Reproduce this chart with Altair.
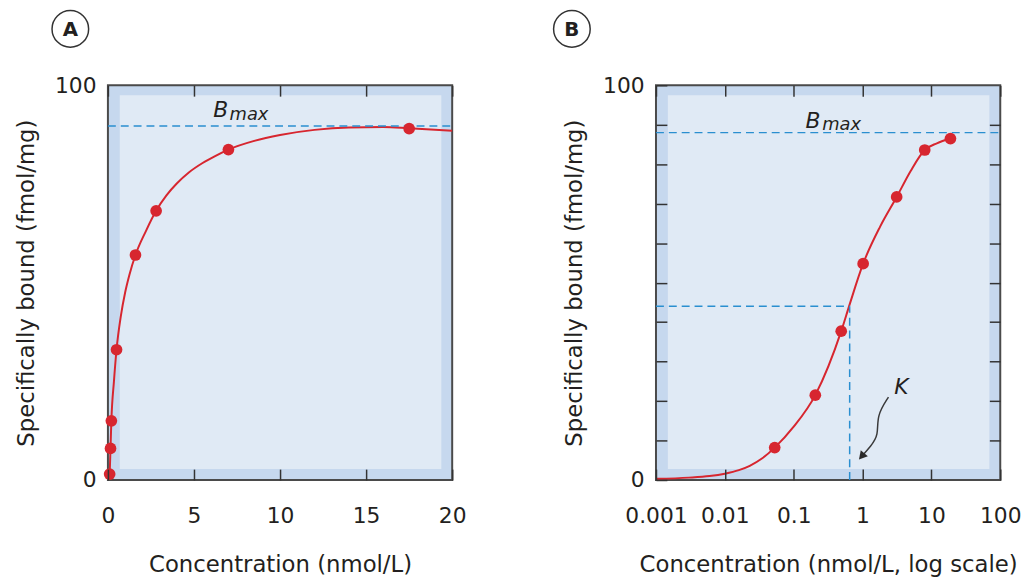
import altair as alt
import pandas as pd

# ---------------- data ----------------
# Panel A (linear concentration)
a_conc = [0.1, 0.15, 0.2, 0.5, 1.6, 2.8, 7.0, 17.5]
a_bound = [1.5, 8.0, 15.0, 33.0, 57.0, 68.2, 83.7, 89.0]
a_curve_x = [0.08, 0.1, 0.15, 0.2, 0.35, 0.5, 0.75, 1.0, 1.25, 1.6, 2.2, 2.8, 3.4, 4.0, 4.7,
             5.5, 6.2, 7.0, 8.5, 10, 12, 14, 16, 17.5, 20]
a_curve_y = [0, 1.5, 8, 15, 25, 33, 41.5, 47.5, 52, 57, 63.0, 68.2, 72.1, 75.1, 77.9,
             80.3, 82.0, 83.7, 85.9, 87.4, 88.7, 89.3, 89.4, 89.1, 88.5]
a_bmax = 89.7
a_xticks = [0, 5, 10, 15, 20]
a_yticks = [0, 100]

# Panel B (log concentration)
b_conc = [0.053, 0.206, 0.49, 1.02, 3.13, 8.0, 18.9]
b_bound = [8.2, 21.5, 37.7, 54.8, 71.7, 83.6, 86.5]
b_curve_x = [0.001, 0.003, 0.006, 0.01, 0.016, 0.023, 0.035, 0.053, 0.1, 0.206, 0.49, 0.65, 1.02,
             1.8, 3.13, 5, 8, 12, 18.9]
b_curve_y = [0.3, 0.6, 1.0, 1.6, 2.5, 3.6, 5.5, 8.2, 13.5, 21.5, 37.7, 44.5, 54.8,
             64.2, 71.7, 78.3, 83.6, 85.3, 86.5]
b_bmax = 88.0
b_half = 44.0
b_k = 0.65
b_xticks = [0.001, 0.01, 0.1, 1, 10, 100]
b_yticks = [0, 10, 20, 30, 40, 50, 60, 70, 80, 90, 100]
b_yticks_right = [10, 20, 30, 40, 50, 60, 70, 80, 90]

# annotation: wavy arrow to K (data coords)
arrow_x = [2.38, 1.6, 1.71, 1.31, 0.97]
arrow_y = [21.0, 16.3, 11.3, 8.5, 6.0]

# ---------------- style ----------------
W, H = 348, 399
FONT = "DejaVu Sans"
TXT = "#231f20"
RED = "#d7262f"
BLUE = "#2a8fd0"
INNER = "#e0eaf5"
OUTER = "#c6d8ee"
FRAME = "#4a4a4a"
TICK = "#333333"

one = pd.DataFrame({"d": [0]})

def inner_rect():
    return alt.Chart(one).mark_rect(color=INNER).encode(
        x=alt.value(12), x2=alt.value(W - 11), y=alt.value(10), y2=alt.value(H - 11)
    )

def badge(letter, px, py):
    circ = alt.Chart(one).mark_point(
        shape="circle", size=1369, filled=False, stroke="#333333", strokeWidth=1.5, opacity=1
    ).encode(x=alt.value(px), y=alt.value(py))
    txt = alt.Chart(one).mark_text(
        text=letter, font=FONT, fontSize=20, fontWeight="bold", color=TXT, baseline="middle", align="center"
    ).encode(x=alt.value(px), y=alt.value(py + 1))
    return circ + txt

def bottom_axis(values, title, fmt=None):
    kw = dict(
        orient="bottom", values=values, tickSize=11, offset=-11, domain=False, grid=False,
        tickColor=TICK, tickWidth=1.5, labelPadding=26, labelFontSize=22, labelFont=FONT,
        labelColor=TXT, labelOverlap=False, labelFlush=False, title=title, titleFont=FONT,
        titleFontSize=23, titleFontWeight="normal", titleColor=TXT, titlePadding=28, zindex=1,
    )
    if fmt:
        kw["format"] = fmt
    return alt.Axis(**kw)

def top_axis(values):
    return alt.Axis(
        orient="top", values=values, tickSize=11, offset=-11, domain=False, grid=False,
        tickColor=TICK, tickWidth=1.5, labels=False, title=None, zindex=1,
    )

# ---------------- panel A ----------------
xa = alt.Scale(domain=[0, 20], nice=False, zero=False)
ya = alt.Scale(domain=[0, 100], nice=False)

dfa_pts = pd.DataFrame({"c": a_conc, "b": a_bound})
dfa_curve = pd.DataFrame({"c": a_curve_x, "b": a_curve_y, "o": list(range(len(a_curve_x)))})

a_rule = alt.Chart(pd.DataFrame({"b": [a_bmax]})).mark_rule(
    color=BLUE, strokeDash=[8, 5], strokeWidth=1.5
).encode(y=alt.Y("b:Q", scale=ya, axis=None), x=alt.value(0), x2=alt.value(W))

a_line = alt.Chart(dfa_curve).mark_line(color=RED, strokeWidth=2, interpolate="monotone").encode(
    x=alt.X("c:Q", scale=xa, axis=bottom_axis(a_xticks, "Concentration (nmol/L)")),
    y=alt.Y("b:Q", scale=ya, axis=alt.Axis(
        values=a_yticks, ticks=False, domain=False, grid=False, labelPadding=12,
        labelFontSize=22, labelFont=FONT, labelColor=TXT, title="Specifically bound (fmol/mg)",
        titleFont=FONT, titleFontSize=23, titleFontWeight="normal", titleColor=TXT, titlePadding=16,
    )),
    order="o:Q",
)

a_pts = alt.Chart(dfa_pts).mark_circle(color=RED, size=140, opacity=1).encode(
    x=alt.X("c:Q", scale=xa, axis=top_axis(a_xticks)),
    y=alt.Y("b:Q", scale=ya, axis=None),
)

a_lbl = pd.DataFrame({"c": [6.55], "b": [92.0], "t": ["B"]})
a_sub = pd.DataFrame({"c": [7.07], "b": [91.2], "t": ["max"]})
a_B = alt.Chart(a_lbl).mark_text(font=FONT, fontSize=22, fontStyle="italic", color=TXT, align="center", baseline="alphabetic").encode(
    x=alt.X("c:Q", scale=xa, axis=None), y=alt.Y("b:Q", scale=ya, axis=None), text="t:N")
a_max = alt.Chart(a_sub).mark_text(font=FONT, fontSize=18, fontStyle="italic", color=TXT, align="left", baseline="alphabetic").encode(
    x=alt.X("c:Q", scale=xa, axis=None), y=alt.Y("b:Q", scale=ya, axis=None), text="t:N")

panel_a = alt.layer(
    inner_rect(), a_line, a_rule, a_pts, a_B, a_max, badge("A", -38, -57)
).resolve_axis(x="independent", y="independent").properties(width=W, height=H)

# ---------------- panel B ----------------
xb = alt.Scale(type="log", domain=[0.001, 100], nice=False)
yb = alt.Scale(domain=[0, 100], nice=False)

dfb_pts = pd.DataFrame({"c": b_conc, "b": b_bound})
dfb_curve = pd.DataFrame({"c": b_curve_x, "b": b_curve_y, "o": list(range(len(b_curve_x)))})

b_rule = alt.Chart(pd.DataFrame({"b": [b_bmax]})).mark_rule(
    color=BLUE, strokeDash=[8, 5], strokeWidth=1.5
).encode(y=alt.Y("b:Q", scale=yb, axis=None), x=alt.value(0), x2=alt.value(W))

b_hrule = alt.Chart(pd.DataFrame({"x1": [0.001], "x2": [b_k], "b": [b_half]})).mark_rule(
    color=BLUE, strokeDash=[8, 5], strokeWidth=1.5
).encode(x=alt.X("x1:Q", scale=xb, axis=None), x2="x2:Q", y=alt.Y("b:Q", scale=yb, axis=None))

b_vrule = alt.Chart(pd.DataFrame({"c": [b_k], "y1": [0.0], "y2": [b_half]})).mark_rule(
    color=BLUE, strokeDash=[8, 5], strokeWidth=1.5
).encode(x=alt.X("c:Q", scale=xb, axis=None), y=alt.Y("y1:Q", scale=yb, axis=None), y2="y2:Q")

b_line = alt.Chart(dfb_curve).mark_line(color=RED, strokeWidth=2, interpolate="monotone").encode(
    x=alt.X("c:Q", scale=xb, axis=bottom_axis(b_xticks, "Concentration (nmol/L, log scale)", fmt="~g")),
    y=alt.Y("b:Q", scale=yb, axis=alt.Axis(
        orient="left", values=b_yticks, tickSize=11, offset=-11, domain=False, grid=False,
        tickColor=TICK, tickWidth=1.5, labelPadding=12, labelFontSize=22, labelFont=FONT,
        labelColor=TXT, labelExpr="datum.value == 0 || datum.value == 100 ? datum.label : ''",
        title="Specifically bound (fmol/mg)", titleFont=FONT, titleFontSize=23,
        titleFontWeight="normal", titleColor=TXT, titlePadding=16, zindex=1,
    )),
    order="o:Q",
)

b_pts = alt.Chart(dfb_pts).mark_circle(color=RED, size=140, opacity=1).encode(
    x=alt.X("c:Q", scale=xb, axis=top_axis(b_xticks)),
    y=alt.Y("b:Q", scale=yb, axis=alt.Axis(
        orient="right", values=b_yticks_right, tickSize=11, offset=-11, domain=False, grid=False,
        tickColor=TICK, tickWidth=1.5, labels=False, title=None, zindex=1,
    )),
)

dfb_arrow = pd.DataFrame({"c": arrow_x, "b": arrow_y, "o": list(range(len(arrow_x)))})
b_arrow = alt.Chart(dfb_arrow).mark_line(color="#3a3a3a", strokeWidth=1.5, interpolate="basis").encode(
    x=alt.X("c:Q", scale=xb, axis=None), y=alt.Y("b:Q", scale=yb, axis=None), order="o:Q")
b_head = alt.Chart(pd.DataFrame({"c": [arrow_x[-1]], "b": [arrow_y[-1]]})).mark_point(
    shape="triangle-up", size=90, filled=True, color="#2a2a2a", opacity=1, angle=221
).encode(x=alt.X("c:Q", scale=xb, axis=None), y=alt.Y("b:Q", scale=yb, axis=None))

b_B = alt.Chart(pd.DataFrame({"c": [0.19], "b": [89.3], "t": ["B"]})).mark_text(
    font=FONT, fontSize=22, fontStyle="italic", color=TXT, align="center", baseline="alphabetic").encode(
    x=alt.X("c:Q", scale=xb, axis=None), y=alt.Y("b:Q", scale=yb, axis=None), text="t:N")
b_max = alt.Chart(pd.DataFrame({"c": [0.26], "b": [88.6], "t": ["max"]})).mark_text(
    font=FONT, fontSize=18, fontStyle="italic", color=TXT, align="left", baseline="alphabetic").encode(
    x=alt.X("c:Q", scale=xb, axis=None), y=alt.Y("b:Q", scale=yb, axis=None), text="t:N")
b_K = alt.Chart(pd.DataFrame({"c": [3.66], "b": [21.8], "t": ["K"]})).mark_text(
    font=FONT, fontSize=22, fontStyle="italic", color=TXT, align="center", baseline="alphabetic").encode(
    x=alt.X("c:Q", scale=xb, axis=None), y=alt.Y("b:Q", scale=yb, axis=None), text="t:N")

panel_b = alt.layer(
    inner_rect(), b_line, b_rule, b_hrule, b_vrule, b_pts, b_arrow, b_head, b_B, b_max, b_K,
    badge("B", -85, -57)
).resolve_axis(x="independent", y="independent").properties(width=W, height=H)

chart = alt.hconcat(panel_a, panel_b, spacing=83).properties(
    padding={"left": 7, "top": -5, "right": 2, "bottom": 0}, background="white"
).configure_view(fill=OUTER, stroke=FRAME, strokeWidth=2)

chart.save("out.html", embed_options={"renderer": "svg", "actions": False})
